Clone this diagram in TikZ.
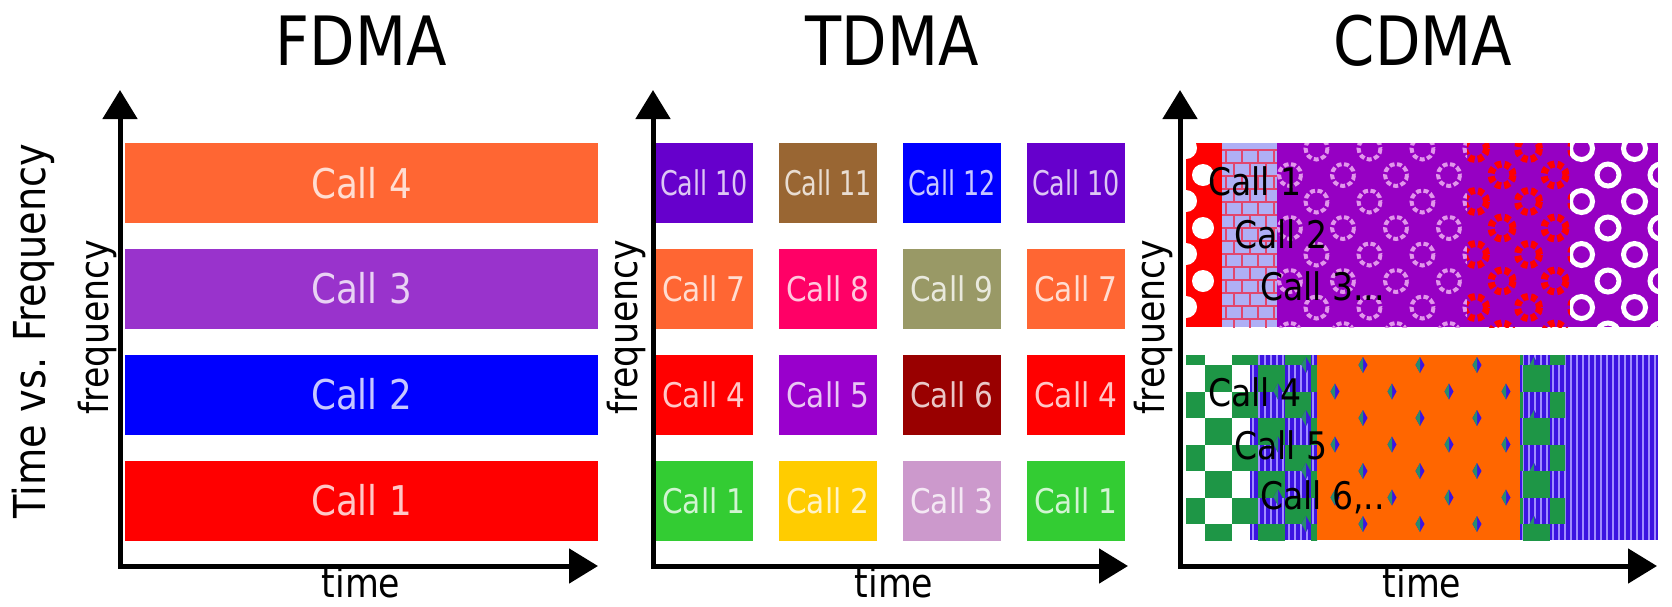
\documentclass[tikz,border=0pt]{standalone}
\usepackage{fontspec}
\setmainfont{DejaVu Sans}[FakeStretch=0.87]
\usetikzlibrary{arrows.meta, positioning}
\definecolor{callorange}{RGB}{255,102,51}
\definecolor{callpurple}{RGB}{153,51,204}
\definecolor{callblue}{RGB}{0,0,255}
\definecolor{callred}{RGB}{255,0,0}
\definecolor{callviolet}{RGB}{102,0,204}
\definecolor{callbrown}{RGB}{153,102,51}
\definecolor{callpink}{RGB}{255,0,102}
\definecolor{callolive}{RGB}{153,153,102}
\definecolor{callmagenta}{RGB}{153,0,204}
\definecolor{calldarkred}{RGB}{153,0,0}
\definecolor{callgreen}{RGB}{51,204,51}
\definecolor{callyellow}{RGB}{255,204,0}
\definecolor{calllilac}{RGB}{204,153,204}
% CDMA texture colours
\definecolor{cdpurple}{RGB}{150,0,195}
\definecolor{cdring}{RGB}{225,150,235}
\definecolor{cdbrick}{RGB}{175,175,245}
\definecolor{cdbrickline}{RGB}{225,70,110}
\definecolor{cdgreen}{RGB}{30,150,70}
\definecolor{cdblue}{RGB}{60,20,225}
\definecolor{cdlavender}{RGB}{160,140,255}
\definecolor{cdorange}{RGB}{255,102,0}
\definecolor{cdteal}{RGB}{40,140,110}
\tikzset{
  headline/.style={font=\fontsize{68}{72}\selectfont, anchor=base, inner sep=0pt},
  axislabel/.style={font=\fontsize{40}{44}\selectfont, inner sep=0pt},
  band/.style={rectangle, fill=#1, text=#1!22!white, minimum width=473pt,
    minimum height=80pt, inner sep=0pt, font=\fontsize{41}{44}\selectfont},
  slot/.style={rectangle, fill=#1, text=#1!22!white, minimum width=98pt,
    minimum height=80pt, inner sep=0pt, font=\fontsize{34}{38}\selectfont},
  codelabel/.style={anchor=west, inner sep=0pt, font=\fontsize{38}{42}\selectfont},
  axisline/.style={line width=5pt,
    {Triangle[width=34pt,length=29pt]}-{Triangle[width=34pt,length=29pt]}}
}
\newcommand{\ringgrid}[1]{%
  \foreach \j in {0,...,7}{%
    \foreach \i in {0,...,8}{%
      \pgfmathsetmacro{\rx}{1237+53*\i+mod(\j+1,2)*26.5}%
      \pgfmathsetmacro{\ry}{148.5+26.5*\j}%
      \draw[#1] (\rx,\ry) circle (11);
    }}}
\newcommand{\checkergrid}{%
  \foreach \i in {0,...,18}{%
    \foreach \j in {0,...,7}{%
      \pgfmathparse{int(mod(\i+\j,2))}%
      \ifnum\pgfmathresult=0
        \fill[cdgreen] ({1178.5+26.5*\i},{338.5+26.5*\j}) rectangle ++(26.5,26.5);
      \fi
    }}}

\begin{document}
\begin{tikzpicture}[x=1pt, y=-1pt]
  \useasboundingbox (0,0) rectangle (1672,606);

  % titles
  \node[headline] (fdma) at (361,65) {FDMA};
  \node[headline] (tdma) at (892,65) {TDMA};
  \node[headline] (cdma) at (1423,65) {CDMA};
  \node[axislabel, rotate=90, font=\fontsize{44}{48}\selectfont] (tvf) at (33,331) {Time vs. Frequency};

  % FDMA
  \node[band=callorange] (f4) at (361.5,183) {Call 4};
  \node[band=callpurple] (f3) at (361.5,288.5) {Call 3};
  \node[band=callblue] (f2) at (361.5,394.5) {Call 2};
  \node[band=callred] (f1) at (361.5,500.5) {Call 1};
  \node[axislabel, rotate=90] (ffreq) at (97,327) {frequency};
  \node[axislabel, anchor=base] (ftime) at (361,597) {time};

  % TDMA
  \node[slot=callviolet] (t10a) at (704,183) {\scalebox{0.86}[1]{Call 10}};
  \node[slot=callbrown] (t11) at (828,183) {\scalebox{0.86}[1]{Call 11}};
  \node[slot=callblue] (t12) at (952,183) {\scalebox{0.86}[1]{Call 12}};
  \node[slot=callviolet] (t10b) at (1076,183) {\scalebox{0.86}[1]{Call 10}};
  \node[slot=callorange] (t7a) at (704,288.5) {Call 7};
  \node[slot=callpink] (t8) at (828,288.5) {Call 8};
  \node[slot=callolive] (t9) at (952,288.5) {Call 9};
  \node[slot=callorange] (t7b) at (1076,288.5) {Call 7};
  \node[slot=callred] (t4a) at (704,394.5) {Call 4};
  \node[slot=callmagenta] (t5) at (828,394.5) {Call 5};
  \node[slot=calldarkred] (t6) at (952,394.5) {Call 6};
  \node[slot=callred] (t4b) at (1076,394.5) {Call 4};
  \node[slot=callgreen] (t1a) at (704,500.5) {Call 1};
  \node[slot=callyellow] (t2) at (828,500.5) {Call 2};
  \node[slot=calllilac] (t3) at (952,500.5) {Call 3};
  \node[slot=callgreen] (t1b) at (1076,500.5) {Call 1};
  \node[axislabel, rotate=90] (tfreq) at (626,327) {frequency};
  \node[axislabel, anchor=base] (ttime) at (894,597) {time};

  % CDMA upper band
  \begin{scope}
    \clip (1186,143) rectangle (1658,327);
    \fill[callred] (1186,143) rectangle (1222,327);
    \foreach \cy in {175,228,281} \fill[white] (1203,\cy) circle (11);
    \foreach \cy in {148,201,254,307} \fill[white] (1186,\cy) circle (11);
    \fill[cdbrick] (1222,143) rectangle (1277,327);
    \foreach \k in {0,...,13}{
      \pgfmathsetmacro{\by}{150+13*\k}
      \pgfmathsetmacro{\bx}{mod(\k,2)*8}
      \draw[cdbrickline, line width=2pt] (1222,\by) -- (1277,\by);
      \foreach \i in {0,...,3}
        \draw[cdbrickline, line width=2pt] (1226+\bx+16*\i,\by) -- ++(0,13);
    }
    \fill[cdpurple] (1277,143) rectangle (1658,327);
    \begin{scope}
      \clip (1277,143) rectangle (1467,327);
      \ringgrid{cdring, line width=4pt, dash pattern=on 5pt off 2.5pt}
    \end{scope}
    \begin{scope}
      \clip (1467,143) rectangle (1570,327);
      \ringgrid{callred, line width=7pt, dash pattern=on 6pt off 3pt}
    \end{scope}
    \begin{scope}
      \clip (1570,143) rectangle (1658,327);
      \ringgrid{white, line width=5pt}
    \end{scope}
  \end{scope}

  % CDMA lower band
  \begin{scope}
    \clip (1186,355) rectangle (1658,540);
    \fill[white] (1186,355) rectangle (1250,540);
    \fill[cdblue] (1250,355) rectangle (1658,540);
    \foreach \sx in {1252,1258,...,1656} \fill[cdlavender] (\sx,355) rectangle ++(2,185);
    \begin{scope}
      \clip (1186,355) rectangle (1317,540);
      \checkergrid
    \end{scope}
    \fill[cdorange] (1317,355) rectangle (1520,540);
    \foreach \j in {0,...,6}{
      \foreach \i in {-1,...,3}{
        \pgfmathsetmacro{\mx}{1335+57*\i+mod(\j+1,2)*28}
        \pgfmathsetmacro{\my}{365+26.5*\j}
        \fill[cdblue] (\mx,\my-8) -- (\mx+4.5,\my) -- (\mx,\my+8) -- (\mx-4.5,\my) -- cycle;
        \fill[cdteal] (\mx,\my-8) -- (\mx,\my+8) -- (\mx-4.5,\my) -- cycle;
      }}
    \begin{scope}
      \clip (1520,355) rectangle (1565,540);
      \checkergrid
    \end{scope}
  \end{scope}

  \node[codelabel] (c1) at (1208,181) {Call 1};
  \node[codelabel] (c2) at (1234,234) {Call 2};
  \node[codelabel] (c3) at (1260,286) {Call 3...};
  \node[codelabel] (c4) at (1208,392) {Call 4};
  \node[codelabel] (c5) at (1234,445) {Call 5};
  \node[codelabel] (c6) at (1260,497) {Call 6,..};
  \node[axislabel, rotate=90] (cfreq) at (1153,327) {frequency};
  \node[axislabel, anchor=base] (ctime) at (1422,597) {time};

  % axes
  \coordinate (fo) at (120,566);
  \coordinate (fy) at (120,90);
  \coordinate (fx) at (598,566);
  \coordinate (to) at (653,566);
  \coordinate (ty) at (653,90);
  \coordinate (tx) at (1128,566);
  \coordinate (co) at (1180,566);
  \coordinate (cy) at (1180,90);
  \coordinate (cx) at (1657,566);
  \draw[axisline] (fy) -- (fo) -- (fx);
  \draw[axisline] (ty) -- (to) -- (tx);
  \draw[axisline] (cy) -- (co) -- (cx);
\end{tikzpicture}
\end{document}
